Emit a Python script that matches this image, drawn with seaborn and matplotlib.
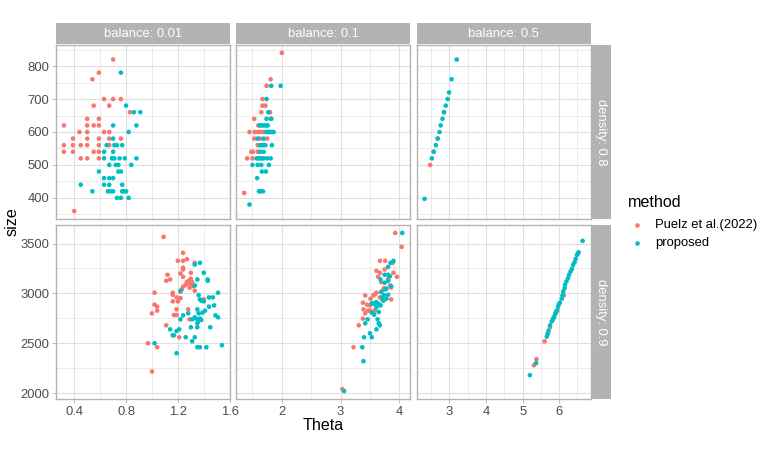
import matplotlib
matplotlib.use("Agg")
import numpy as np
import pandas as pd
import seaborn as sns
import matplotlib.pyplot as plt
from matplotlib.patches import Rectangle
from matplotlib.lines import Line2D
from matplotlib.ticker import MultipleLocator

sns.set_theme(style="white")
plt.rcParams["font.family"] = ["Liberation Sans", "DejaVu Sans"]

# ---------------- data ----------------
methods = ["Puelz et al.(2022)", "proposed"]
colors = ["#F8766D", "#00BFC4"]
balances = [0.01, 0.1, 0.5]
densities = [0.8, 0.9]

# balance 0.01, density 0.8
theta_b001_d08_puelz = [0.70, 0.59, 0.54, 0.63, 0.70, 0.76, 0.55, 0.67, 0.83, 0.50, 0.59, 0.32, 0.50, 0.55, 0.59,
                        0.44, 0.50, 0.63, 0.67, 0.39, 0.50, 0.59, 0.67, 0.76, 0.32, 0.39, 0.45, 0.50, 0.59, 0.67,
                        0.32, 0.39, 0.55, 0.59, 0.45, 0.50, 0.59, 0.40]
size_b001_d08_puelz = [820, 780, 760, 700, 700, 700, 680, 680, 660, 640, 640, 620, 620, 620, 620,
                       600, 600, 600, 600, 580, 580, 580, 580, 580, 560, 560, 560, 560, 560, 560,
                       540, 540, 540, 540, 520, 520, 520, 360]
theta_b001_d08_prop = [0.76, 0.80, 0.86, 0.91, 0.70, 0.88, 0.82, 0.70, 0.65, 0.71, 0.73, 0.77, 0.63, 0.70, 0.63,
                       0.69, 0.71, 0.75, 0.79, 0.88, 0.67, 0.72, 0.74, 0.84, 0.59, 0.74, 0.76, 0.63, 0.67, 0.70,
                       0.63, 0.67, 0.77, 0.45, 0.54, 0.66, 0.68, 0.70, 0.77, 0.78, 0.80, 0.73, 0.76, 0.82]
size_b001_d08_prop = [780, 680, 660, 660, 620, 620, 600, 580, 560, 560, 560, 560, 540, 540, 520,
                      520, 520, 520, 520, 520, 500, 500, 500, 500, 480, 480, 480, 460, 460, 460,
                      440, 440, 440, 440, 420, 420, 420, 420, 420, 420, 420, 400, 400, 400]

# balance 0.1, density 0.8
theta_b01_d08_puelz = [2.00, 1.81, 1.74, 1.67, 1.67, 1.72, 1.65, 1.80, 1.53, 1.81, 1.60, 1.45, 1.54, 1.59, 1.63,
                       1.68, 1.53, 1.63, 1.75, 1.59, 1.48, 1.51, 1.59, 1.41, 1.50, 1.36]
size_b01_d08_puelz = [840, 760, 740, 700, 680, 680, 660, 660, 640, 640, 620, 600, 600, 600, 600,
                      600, 580, 580, 580, 560, 540, 540, 540, 520, 520, 415]
theta_b01_d08_prop = [1.82, 1.98, 1.74, 1.77, 1.74, 1.82, 1.62, 1.65, 1.68, 1.71, 1.74, 1.76, 1.73, 1.76, 1.78,
                      1.80, 1.83, 1.86, 1.59, 1.69, 1.63, 1.66, 1.69, 1.72, 1.83, 1.63, 1.69, 1.57, 1.60, 1.63,
                      1.66, 1.69, 1.75, 1.81, 1.50, 1.59, 1.65, 1.78, 1.66, 1.73, 1.58, 1.61, 1.64, 1.68, 1.45]
size_b01_d08_prop = [740, 740, 700, 660, 640, 640, 620, 620, 620, 620, 620, 620, 600, 600, 600,
                     600, 600, 600, 580, 580, 560, 560, 560, 560, 560, 540, 540, 520, 520, 520,
                     520, 520, 520, 520, 500, 500, 500, 500, 480, 480, 460, 420, 420, 420, 380]

# balance 0.5, density 0.8
theta_b05_d08_puelz = [2.85, 2.68, 2.57, 2.47]
size_b05_d08_puelz = [660, 580, 540, 500]
theta_b05_d08_prop = [3.20, 3.06, 2.99, 2.95, 2.90, 2.85, 2.81, 2.76, 2.73, 2.68, 2.63, 2.57, 2.52, 2.32]
size_b05_d08_prop = [820, 760, 720, 700, 680, 660, 640, 620, 600, 580, 560, 540, 520, 397]

# balance 0.01, density 0.9
theta_b001_d09_puelz = [1.09, 1.24, 1.20, 1.24, 1.27, 1.33, 1.24, 1.24, 1.22, 1.30, 1.12, 1.14, 1.11, 1.24, 1.27,
                        1.29, 1.30, 1.28, 1.31, 1.26, 1.24, 1.30, 1.29, 1.32, 1.33, 1.23, 1.22, 1.02, 1.16, 1.16,
                        1.19, 1.22, 1.16, 1.20, 1.40, 1.02, 1.04, 1.04, 1.00, 1.19, 1.28, 1.17, 1.19, 1.29, 1.11,
                        1.21, 0.97, 1.04, 1.00]
size_b001_d09_puelz = [3567, 3407, 3327, 3327, 3343, 3307, 3257, 3240, 3200, 3207, 3187, 3140, 3127, 3167, 3117,
                       3133, 3147, 3107, 3113, 3087, 3067, 3080, 3057, 3073, 3027, 3040, 3017, 3007, 3007, 2987,
                       2960, 2953, 2920, 2920, 2940, 2887, 2867, 2827, 2800, 2840, 2840, 2783, 2783, 2740, 2680,
                       2560, 2500, 2460, 2217]
theta_b001_d09_prop = [1.37, 1.33, 1.40, 1.43, 1.43, 1.35, 1.33, 1.22, 1.51, 1.36, 1.44, 1.47, 1.37, 1.38, 1.40,
                       1.48, 1.44, 1.35, 1.41, 1.36, 1.28, 1.39, 1.49, 1.51, 1.22, 1.24, 1.33, 1.31, 1.34, 1.37,
                       1.36, 1.38, 1.35, 1.30, 1.35, 1.45, 1.14, 1.21, 1.19, 1.16, 1.17, 1.26, 1.33, 1.31, 1.02,
                       1.35, 1.37, 1.42, 1.54, 1.19]
size_b001_d09_prop = [3307, 3290, 3207, 3140, 3127, 3140, 3080, 3027, 3007, 2983, 2960, 2960, 2940, 2927, 2920,
                      2880, 2867, 2840, 2827, 2800, 2800, 2807, 2780, 2760, 2740, 2780, 2760, 2740, 2747, 2747,
                      2727, 2733, 2700, 2660, 2660, 2660, 2640, 2640, 2623, 2580, 2580, 2560, 2560, 2520, 2500,
                      2460, 2460, 2460, 2480, 2400]

# balance 0.1, density 0.9
theta_b01_d09_puelz = [3.93, 4.04, 3.67, 3.76, 3.89, 3.61, 3.67, 3.90, 3.75, 3.64, 3.96, 3.81, 3.69, 3.84, 3.86,
                       3.74, 3.71, 3.61, 3.59, 3.42, 3.56, 3.67, 3.51, 3.86, 3.71, 3.38, 3.45, 3.50, 3.39, 3.47,
                       3.50, 3.58, 3.42, 3.38, 3.31, 3.22, 3.03]
size_b01_d09_puelz = [3607, 3467, 3327, 3327, 3307, 3227, 3207, 3207, 3240, 3167, 3167, 3147, 3113, 3080, 3060,
                      3053, 3027, 3007, 2993, 2980, 2980, 2960, 2947, 2940, 2933, 2907, 2887, 2880, 2840, 2827,
                      2827, 2827, 2800, 2747, 2680, 2460, 2040]
theta_b01_d09_prop = [4.05, 3.90, 3.85, 3.81, 3.75, 3.81, 3.84, 3.68, 3.81, 3.75, 3.86, 3.78, 3.76, 3.69, 3.81,
                      3.74, 3.71, 3.78, 3.73, 3.61, 3.53, 3.56, 3.59, 3.65, 3.68, 3.61, 3.65, 3.53, 3.57, 3.46,
                      3.63, 3.42, 3.65, 3.67, 3.61, 3.50, 3.40, 3.53, 3.37, 3.39, 3.06]
size_b01_d09_prop = [3607, 3327, 3307, 3267, 3187, 3187, 3173, 3140, 3127, 3107, 3073, 3047, 3040, 3013, 2987,
                     2980, 2960, 2947, 2927, 2913, 2900, 2900, 2893, 2893, 2880, 2860, 2813, 2807, 2787, 2740,
                     2740, 2700, 2700, 2680, 2640, 2600, 2560, 2560, 2460, 2320, 2020]

# balance 0.5, density 0.9
theta_b05_d09_puelz = [6.13, 5.95, 5.89, 5.85, 5.75, 5.69, 5.60, 5.38, 5.31]
size_b05_d09_puelz = [2980, 2827, 2793, 2760, 2660, 2593, 2520, 2340, 2280]
theta_b05_d09_prop = [6.64, 6.53, 6.51, 6.49, 6.45, 6.42, 6.38, 6.35, 6.31, 6.27, 6.24, 6.20, 6.16, 6.15, 6.11,
                      6.09, 6.07, 6.02, 5.99, 5.97, 5.93, 5.91, 5.89, 5.86, 5.83, 5.80, 5.75, 5.71, 5.69, 5.66,
                      5.37, 5.20]
size_b05_d09_prop = [3527, 3413, 3400, 3387, 3347, 3313, 3287, 3247, 3220, 3187, 3153, 3120, 3087, 3053, 3020,
                     2980, 2947, 2907, 2890, 2867, 2827, 2810, 2793, 2760, 2740, 2720, 2680, 2627, 2600, 2567,
                     2300, 2180]

panel_series = [
    (0.01, 0.8, methods[0], theta_b001_d08_puelz, size_b001_d08_puelz),
    (0.01, 0.8, methods[1], theta_b001_d08_prop, size_b001_d08_prop),
    (0.1, 0.8, methods[0], theta_b01_d08_puelz, size_b01_d08_puelz),
    (0.1, 0.8, methods[1], theta_b01_d08_prop, size_b01_d08_prop),
    (0.5, 0.8, methods[0], theta_b05_d08_puelz, size_b05_d08_puelz),
    (0.5, 0.8, methods[1], theta_b05_d08_prop, size_b05_d08_prop),
    (0.01, 0.9, methods[0], theta_b001_d09_puelz, size_b001_d09_puelz),
    (0.01, 0.9, methods[1], theta_b001_d09_prop, size_b001_d09_prop),
    (0.1, 0.9, methods[0], theta_b01_d09_puelz, size_b01_d09_puelz),
    (0.1, 0.9, methods[1], theta_b01_d09_prop, size_b01_d09_prop),
    (0.5, 0.9, methods[0], theta_b05_d09_puelz, size_b05_d09_puelz),
    (0.5, 0.9, methods[1], theta_b05_d09_prop, size_b05_d09_prop),
]
frames = []
for bal, dens, meth, th, sz in panel_series:
    frames.append(pd.DataFrame({"balance": bal, "density": dens, "method": meth,
                                "theta": th, "size": sz}))
df = pd.concat(frames, ignore_index=True)

# ---------------- plot ----------------
W, H = 763, 458
g = sns.FacetGrid(df, row="density", col="balance", row_order=densities, col_order=balances,
                  sharex="col", sharey="row", height=1.74, aspect=1.0, despine=False)
g.map_dataframe(sns.scatterplot, x="theta", y="size", hue="method", hue_order=methods,
                palette=colors, s=11, linewidth=0, edgecolor="none", legend=False)
fig = g.figure
fig.set_size_inches(W / 100, H / 100)
fig.subplots_adjust(left=56 / W, right=590.5 / W, top=1 - 45 / H, bottom=1 - 399 / H,
                    wspace=6.5 / 174, hspace=6 / 174)
g.set_titles("")
g.set_axis_labels("", "")

border = "#B3B3B3"
grid_c = "#DEDEDE"
x_major = [0.4, 1.0, 1.0]
x_minor = [0.2, 0.5, 0.5]
y_major = [100, 500]
y_minor = [50, 250]

for j, bal in enumerate(balances):
    sub = df[df["balance"] == bal]["theta"]
    lo, hi = sub.min(), sub.max()
    pad = (hi - lo) * 0.05
    g.axes[0, j].set_xlim(lo - pad, hi + pad)
for i, dens in enumerate(densities):
    sub = df[df["density"] == dens]["size"]
    lo, hi = sub.min(), sub.max()
    pad = (hi - lo) * 0.05
    g.axes[i, 0].set_ylim(lo - pad, hi + pad)

for i in range(2):
    for j in range(3):
        ax = g.axes[i, j]
        ax.set_facecolor("white")
        ax.set_title("")
        for sp in ax.spines.values():
            sp.set_color(border)
            sp.set_linewidth(1.0)
            sp.set_visible(True)
        ax.xaxis.set_major_locator(MultipleLocator(x_major[j]))
        ax.xaxis.set_minor_locator(MultipleLocator(x_minor[j]))
        ax.yaxis.set_major_locator(MultipleLocator(y_major[i]))
        ax.yaxis.set_minor_locator(MultipleLocator(y_minor[i]))
        ax.grid(True, which="major", color=grid_c, linewidth=0.75)
        ax.grid(True, which="minor", color=grid_c, linewidth=0.4)
        ax.set_axisbelow(True)
        ax.tick_params(which="major", length=3, width=0.6, color=border,
                       labelsize=9.35, labelcolor="#4D4D4D", pad=2,
                       bottom=(i == 1), left=(j == 0),
                       labelbottom=(i == 1), labelleft=(j == 0))
        ax.tick_params(which="minor", length=0)
        ax.set_xlabel("")
        ax.set_ylabel("")
        if i == 0:
            ax.add_patch(Rectangle((0, 1 + 0.7 / 174), 1, 21 / 174, transform=ax.transAxes,
                                   clip_on=False, facecolor=border, edgecolor="none"))
            ax.text(0.5, 1 + (0.7 + 10.5) / 174, f"balance: {balances[j]}", transform=ax.transAxes,
                    ha="center", va="center", color="white", fontsize=9.35)
        if j == 2:
            ax.add_patch(Rectangle((1 + 0.7 / 174, 0), 20.3 / 174, 1, transform=ax.transAxes,
                                   clip_on=False, facecolor=border, edgecolor="none"))
            ax.text(1 + (0.7 + 10.15) / 174, 0.5, f"density: {densities[i]}", transform=ax.transAxes,
                    ha="center", va="center", color="white", fontsize=9.35, rotation=-90)

fig.text(12 / W, 1 - 222 / H, "size", rotation=90, ha="center", va="center",
         fontsize=11.6, color="black")
fig.text(323 / W, 1 - 426 / H, "Theta", ha="center", va="center", fontsize=11.6, color="black")

# legend
fig.text(628 / W, 1 - 206.7 / H, "method", ha="left", va="baseline", fontsize=11.6, color="black")
for k, (m, c) in enumerate(zip(methods, colors)):
    yy = 1 - (225 + 17.7 * k) / H
    fig.add_artist(Line2D([636.7 / W], [yy], marker="o", markersize=3.3, color=c,
                          markeredgewidth=0, linestyle="none", transform=fig.transFigure))
    fig.text(655 / W, yy, m, ha="left", va="center", fontsize=9.35, color="black")

fig.savefig("out.png", dpi=100)
